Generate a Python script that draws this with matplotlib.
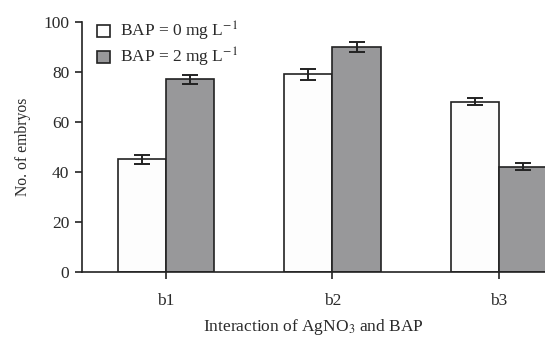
import numpy as np
import matplotlib
matplotlib.use("Agg")
from matplotlib import pyplot as plt
from matplotlib.patches import Patch

plt.rcParams['font.family'] = ['Liberation Serif', 'DejaVu Serif']
plt.rcParams['mathtext.fontset'] = 'stix'

groups = ["b1", "b2", "b3"]
bap0 = [45, 79, 68]
bap0_err = [1.7, 2.3, 1.4]
bap2 = [77, 90, 42]
bap2_err = [1.7, 2.0, 1.4]
legend_labels = ["BAP = 0 mg L$^{-1}$", "BAP = 2 mg L$^{-1}$"]

fig = plt.figure(figsize=(5.45, 3.37), dpi=100)
ax = fig.add_axes([0.150, 0.193, 0.850, 0.742])

x = np.arange(len(groups))
w = 0.29
ekw = dict(elinewidth=1.4, capthick=1.4, ecolor="#222222")
ax.bar(x - w / 2, bap0, w, yerr=bap0_err, color="#fdfdfd", edgecolor="#222222",
       linewidth=1.2, capsize=5.5, error_kw=ekw)
ax.bar(x + w / 2, bap2, w, yerr=bap2_err, color="#98989a", edgecolor="#222222",
       linewidth=1.2, capsize=5.5, error_kw=ekw)

ax.set_xlim(-0.505, 2.276)
ax.set_ylim(0, 100)
ax.set_yticks([0, 20, 40, 60, 80, 100])
ax.set_xticks(x)
ax.set_xticklabels(groups)
for s in ["top", "right"]:
    ax.spines[s].set_visible(False)
for s in ["left", "bottom"]:
    ax.spines[s].set_linewidth(1.2)
    ax.spines[s].set_color("#222222")
ax.tick_params(axis="both", direction="out", length=5, width=1.2, colors="#222222",
               labelsize=12.5, labelcolor="#2a2a2a")
ax.tick_params(axis="x", pad=10)
ax.tick_params(axis="y", pad=4)
ax.set_ylabel("No. of embryos", fontsize=11.3, color="#2a2a2a", labelpad=9)
ax.set_xlabel("Interaction of AgNO$_3$ and BAP", fontsize=12.5, color="#2a2a2a", labelpad=6)

handles = [Patch(facecolor="#fdfdfd", edgecolor="#222222", linewidth=1.2),
           Patch(facecolor="#98989a", edgecolor="#222222", linewidth=1.2)]
ax.legend(handles, legend_labels, loc="upper left", bbox_to_anchor=(0.0, 1.07),
          frameon=False, fontsize=12.5, handlelength=0.7, handleheight=0.7,
          handletextpad=0.6, labelspacing=0.15, labelcolor="#2a2a2a")

fig.savefig("out.png", dpi=100)
